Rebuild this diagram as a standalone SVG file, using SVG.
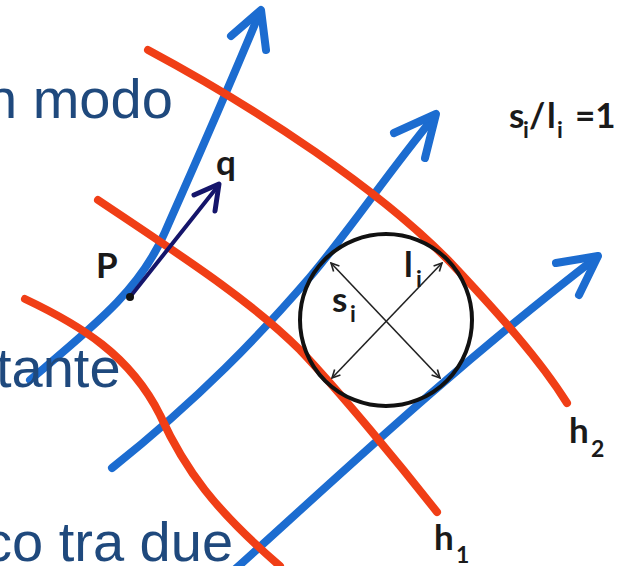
<svg xmlns="http://www.w3.org/2000/svg" width="635" height="566" viewBox="0 0 635 566">
<defs>
<style>
.bg{font-family:"Liberation Sans",Arial,sans-serif;font-size:56px;fill:#1F497D}
.blue{fill:none;stroke:#1C6CD0;stroke-width:8;stroke-linecap:round;stroke-linejoin:round}
.red{fill:none;stroke:#F03E16;stroke-width:8;stroke-linecap:round;stroke-linejoin:round}
.lbl{font-family:Lato,"Liberation Sans",sans-serif;font-weight:bold;font-size:35px;fill:#1a1a1a}
.sub{font-size:23px}
.thin{fill:none;stroke:#222;stroke-width:1.6}
</style>
<marker id="oa" viewBox="0 0 10 10" refX="9" refY="5" markerWidth="10" markerHeight="10" markerUnits="userSpaceOnUse" orient="auto-start-reverse">
<path d="M1,1 L9,5 L1,9" fill="none" stroke="#222" stroke-width="1.6"/>
</marker>
</defs>
<rect width="635" height="566" fill="#fff"/>
<g id="connectors">
<g id="stream1"><path class="blue" d="M30,380 C95,325 140,290 165,232 C190,175 215,120 260,12"/><polyline class="blue" points="231,36 261,10 266,50"/></g>
<g id="stream2"><path class="blue" d="M112,468 C200,398 260,335 310,277 C350,230 390,170 434,117"/><polyline class="blue" points="394,133 436,114 425,158"/></g>
<g id="stream3"><path class="blue" d="M232,572 C330,484 450,370 597,257"/><polyline class="blue" points="556,263 598,256 579,295"/></g>
<g id="iso0"><path class="red" d="M25,299 C80,325 130,355 160,415 C185,470 215,510 280,566"/></g>
<g id="iso1"><path class="red" d="M98,200 C180,255 250,300 300,350 C340,392 400,465 437,512"/></g>
<g id="iso2"><path class="red" d="M148,50 C260,110 380,190 450,262 C500,315 540,360 567,403"/></g>
<g id="qarrow"><line x1="130" y1="297" x2="218" y2="186" stroke="#15156B" stroke-width="4" stroke-linecap="round"/><polyline points="194,195 219,184 215,211" fill="none" stroke="#15156B" stroke-width="5" stroke-linecap="round" stroke-linejoin="round"/></g>
</g>
<g id="circle">
<circle cx="386" cy="320" r="86" fill="none" stroke="#111" stroke-width="4"/>
<line class="thin" x1="331" y1="263" x2="440" y2="378" marker-start="url(#oa)" marker-end="url(#oa)"/>
<line class="thin" x1="442" y1="263" x2="332" y2="378" marker-start="url(#oa)" marker-end="url(#oa)"/>
<text class="lbl" x="332" y="312">s</text><text class="lbl sub" x="350" y="322">i</text>
<text class="lbl" x="404" y="277">l</text><text class="lbl sub" x="416" y="287">i</text>
</g>
<g id="P"><circle cx="130" cy="297" r="4" fill="#111"/><text class="lbl" x="96" y="278">P</text></g>
<g id="q"><text class="lbl" x="216" y="175">q</text></g>
<g id="h1"><text class="lbl" x="434" y="550">h</text><text class="lbl sub" x="456" y="563">1</text></g>
<g id="h2"><text class="lbl" x="569" y="443">h</text><text class="lbl sub" x="591" y="457">2</text></g>
<g id="ratio"><text class="lbl"><tspan x="509" y="128">s</tspan><tspan class="sub" x="523" y="138">i</tspan><tspan x="529" y="128">/</tspan><tspan x="547" y="128">l</tspan><tspan class="sub" x="557" y="138">i</tspan><tspan x="575" y="128">=1</tspan></text></g>
<g id="bgtext">
<text class="bg" x="-14" y="118">n modo</text>
<text class="bg" x="-4" y="387">tante</text>
<text class="bg" x="-16" y="561">co tra due</text>
</g>
</svg>
